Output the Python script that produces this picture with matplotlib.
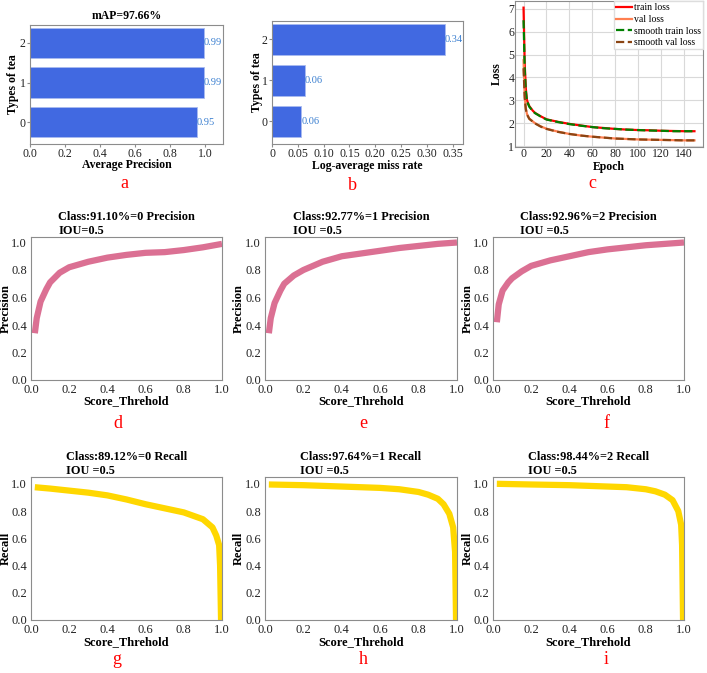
import matplotlib
matplotlib.use("Agg")
import matplotlib.pyplot as plt
from matplotlib.ticker import FixedLocator, FixedFormatter

plt.rcParams['font.family'] = ['Liberation Serif', 'DejaVu Serif']
plt.rcParams['font.size'] = 9
plt.rcParams['axes.edgecolor'] = '#8c8c8c'
plt.rcParams['xtick.color'] = '#8c8c8c'
plt.rcParams['ytick.color'] = '#8c8c8c'
plt.rcParams['xtick.labelcolor'] = '#222222'
plt.rcParams['ytick.labelcolor'] = '#222222'

# ---- data ----
tea_types = ['0', '1', '2']
ap_values = [0.95, 0.99, 0.99]
lamr_values = [0.06, 0.06, 0.34]
lamr_bar = [0.057, 0.063, 0.335]
map_title = 'mAP=97.66%'

ep = [0, 1, 2, 3, 5, 8, 10, 15, 20, 30, 40, 50, 60, 70, 80, 90, 100, 110, 120, 130, 140, 149]
train_loss = [7.05, 4.6, 3.5, 3.0, 2.75, 2.55, 2.45, 2.3, 2.17, 2.06, 1.97, 1.9, 1.83, 1.79, 1.75, 1.72, 1.7, 1.69, 1.67, 1.66, 1.65, 1.65]
val_loss = [4.75, 3.2, 2.65, 2.4, 2.2, 2.08, 2.0, 1.86, 1.76, 1.63, 1.53, 1.46, 1.41, 1.37, 1.33, 1.31, 1.29, 1.28, 1.27, 1.26, 1.25, 1.25]
smooth_train = [6.5, 4.4, 3.4, 2.95, 2.72, 2.53, 2.44, 2.29, 2.16, 2.05, 1.96, 1.89, 1.83, 1.78, 1.75, 1.72, 1.7, 1.68, 1.67, 1.65, 1.65, 1.65]
smooth_val = [4.4, 3.1, 2.6, 2.38, 2.19, 2.07, 1.99, 1.85, 1.75, 1.62, 1.53, 1.46, 1.41, 1.37, 1.33, 1.31, 1.29, 1.28, 1.27, 1.26, 1.25, 1.25]

thr_p = [0.02, 0.03, 0.05, 0.08, 0.1, 0.15, 0.2, 0.3, 0.4, 0.5, 0.6, 0.7, 0.8, 0.9, 1.0]
prec_0 = [0.34, 0.45, 0.57, 0.66, 0.71, 0.78, 0.82, 0.86, 0.89, 0.91, 0.925, 0.93, 0.945, 0.965, 0.99]
prec_1 = [0.34, 0.45, 0.56, 0.65, 0.70, 0.76, 0.80, 0.86, 0.90, 0.92, 0.94, 0.96, 0.975, 0.99, 1.0]
prec_2 = [0.42, 0.55, 0.65, 0.71, 0.74, 0.79, 0.83, 0.87, 0.90, 0.93, 0.95, 0.965, 0.98, 0.99, 1.0]
prec_titles = ['Class:91.10%=0 Precision\nIOU=0.5',
               'Class:92.77%=1 Precision\nIOU =0.5',
               'Class:92.96%=2 Precision\nIOU =0.5']

thr_r0 = [0.02, 0.1, 0.2, 0.3, 0.4, 0.5, 0.6, 0.7, 0.8, 0.9, 0.95, 0.97, 0.985, 0.99, 0.995]
rec_0 = [0.975, 0.965, 0.95, 0.935, 0.915, 0.885, 0.85, 0.82, 0.79, 0.74, 0.68, 0.62, 0.55, 0.4, 0.0]
thr_r1 = [0.02, 0.2, 0.4, 0.6, 0.7, 0.8, 0.85, 0.9, 0.93, 0.96, 0.98, 0.99, 0.995]
rec_1 = [0.995, 0.99, 0.98, 0.97, 0.96, 0.94, 0.92, 0.89, 0.85, 0.78, 0.68, 0.5, 0.0]
thr_r2 = [0.02, 0.2, 0.4, 0.6, 0.7, 0.8, 0.85, 0.9, 0.94, 0.97, 0.985, 0.99, 0.995]
rec_2 = [1.0, 0.995, 0.99, 0.98, 0.975, 0.96, 0.945, 0.92, 0.88, 0.8, 0.7, 0.55, 0.0]
rec_titles = ['Class:89.12%=0 Recall\nIOU =0.5',
              'Class:97.64%=1 Recall\nIOU =0.5',
              'Class:98.44%=2 Recall\nIOU =0.5']

panel_letters = ['a', 'b', 'c', 'd', 'e', 'f', 'g', 'h', 'i']

W, H = 707, 673
fig = plt.figure(figsize=(W / 100, H / 100), dpi=100)


def px_axes(l, t, r, b, ylab_x, xlab_top):
    # ylab_x is the right edge of the rotated y label, in pixels
    ax = fig.add_axes([l / W, 1 - b / H, (r - l) / W, (b - t) / H])
    ax.yaxis.set_label_coords((ylab_x - l) / (r - l), 0.5)
    ax.xaxis.set_label_coords(0.5, (b - xlab_top) / (b - t))
    return ax


bold = dict(fontweight='bold', fontsize=9)
bold_s = dict(fontweight='bold', fontsize=8.5)
bar_c = '#4169e1'
txt_c = '#3a7fd0'

# a
ax = px_axes(30, 25, 223, 144, 19, 159)
ax.barh(tea_types, ap_values, height=0.76, color=bar_c, edgecolor='#a9bbf0', lw=0.6)
for i, v in enumerate(ap_values):
    ax.text(v, i, '%.2f' % v, color=txt_c, va='center', fontsize=7.5)
ax.set_xlim(0, 1.1)
ax.set_ylim(-0.55, 2.45)
ax.set_xticks([0, 0.2, 0.4, 0.6, 0.8, 1.0])
ax.tick_params(length=2, pad=1, labelsize=8.5)
ax.set_title(map_title, pad=4, **bold_s)
ax.set_xlabel('Average Precision', **bold_s)
ax.set_ylabel('Types of tea', **bold_s)

# b
ax = px_axes(272, 21, 463, 144, 263, 160)
ax.barh(tea_types, lamr_bar, height=0.76, color=bar_c, edgecolor='#a9bbf0', lw=0.6)
for i, v in enumerate(lamr_bar):
    ax.text(v, i, '%.2f' % lamr_values[i], color=txt_c, va='center', fontsize=7.5)
ax.set_xlim(0, 0.37)
ax.set_ylim(-0.55, 2.45)
xt = [0, 0.05, 0.1, 0.15, 0.2, 0.25, 0.3, 0.35]
ax.xaxis.set_major_locator(FixedLocator(xt))
ax.xaxis.set_major_formatter(FixedFormatter(['0', '0.05', '0.10', '0.15', '0.20', '0.25', '0.30', '0.35']))
ax.tick_params(length=2, pad=1, labelsize=8.5)
ax.set_xlabel('Log-average miss rate', **bold_s)
ax.set_ylabel('Types of tea', **bold_s)

# c
ax = px_axes(515, 1, 703, 147, 503, 161)
ax.plot(ep, train_loss, color='red', lw=1.6, label='train loss')
ax.plot(ep, val_loss, color='coral', lw=1.6, label='val loss')
ax.plot(ep, smooth_train, color='green', lw=1.6, ls='--', label='smooth train loss')
ax.plot(ep, smooth_val, color='#8b4513', lw=1.6, ls='--', label='smooth val loss')
ax.grid(True, color='#d9d9d9', lw=0.8)
ax.set_yticks([1, 2, 3, 4, 5, 6, 7])
ax.set_xticks([0, 20, 40, 60, 80, 100, 120, 140])
ax.tick_params(length=0, pad=0.5, labelsize=8.5)
ax.set_xlabel('Epoch', **bold_s)
ax.set_ylabel('Loss', **bold_s)
ax.legend(loc='upper right', fontsize=7, frameon=True, framealpha=1, edgecolor='#dddddd',
          fancybox=False, handlelength=1.7, borderpad=0.2, labelspacing=0.27,
          handletextpad=0.15, borderaxespad=0.05)

# d e f
prec_sets = [prec_0, prec_1, prec_2]
xs = [(31, 222), (265, 457), (493, 684)]
ylab_x = [12, 245, 474]
for k in range(3):
    l, r = xs[k]
    ax = px_axes(l, 237, r, 380, ylab_x[k], 395)
    ax.plot(thr_p, prec_sets[k], color='palevioletred', lw=4.5, solid_capstyle='butt')
    ax.set_xlim(0, 1)
    ax.set_ylim(0, 1.04)
    ax.set_xticks([0, 0.2, 0.4, 0.6, 0.8, 1.0])
    ax.set_yticks([0, 0.2, 0.4, 0.6, 0.8, 1.0])
    ax.tick_params(length=0, pad=3)
    ax.text(0.5, 1.0, prec_titles[k], transform=ax.transAxes, ha='center',
            va='bottom', multialignment='left', fontweight='bold', fontsize=8.8)
    ax.set_xlabel('Score_Threhold', **bold)
    ax.set_ylabel('Precision', **bold)

# g h i
rec_sets = [(thr_r0, rec_0), (thr_r1, rec_1), (thr_r2, rec_2)]
for k in range(3):
    l, r = xs[k]
    ax = px_axes(l, 477, r, 620, ylab_x[k], 636)
    ax.plot(rec_sets[k][0], rec_sets[k][1], color='gold', lw=4.5, solid_capstyle='butt')
    ax.set_xlim(0, 1)
    ax.set_ylim(0, 1.05)
    ax.set_xticks([0, 0.2, 0.4, 0.6, 0.8, 1.0])
    ax.set_yticks([0, 0.2, 0.4, 0.6, 0.8, 1.0])
    ax.tick_params(length=0, pad=3)
    ax.text(0.5, 1.0, rec_titles[k], transform=ax.transAxes, ha='center',
            va='bottom', multialignment='left', fontweight='bold', fontsize=8.8)
    ax.set_xlabel('Score_Threhold', **bold)
    ax.set_ylabel('Recall', **bold)

# panel letters
letter_pos = [(124, 184), (352, 185), (592, 184),
              (118, 423), (363, 423), (606, 423),
              (117, 659), (363, 659), (606, 659)]
for s, (x, y) in zip(panel_letters, letter_pos):
    fig.text(x / W, 1 - y / H, s, color='red', fontsize=13, ha='center', va='center')

fig.savefig('out.png', dpi=100)
